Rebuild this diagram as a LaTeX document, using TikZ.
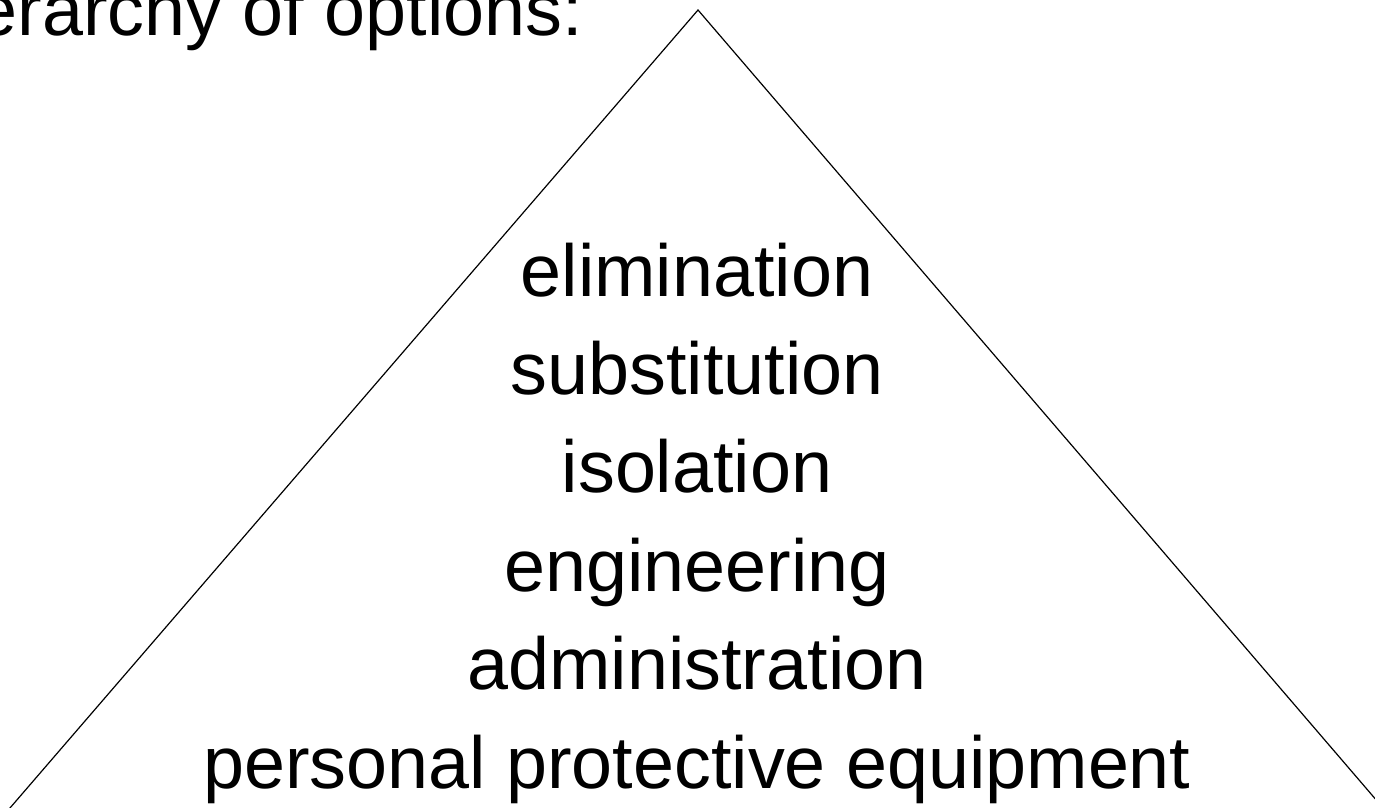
\documentclass[tikz,border=0pt]{standalone}
\usepackage{fontspec}
\setmainfont{Liberation Sans}
\begin{document}
\begin{tikzpicture}[x=1pt,y=-1pt,
  level/.style={anchor=base, inner sep=0pt, font=\fontsize{73.7}{88}\selectfont},
  titletext/.style={anchor=base west, inner sep=0pt, font=\fontsize{73.7}{88}\selectfont},
  edge/.style={draw=black, line width=1.2pt, line join=miter}]
\useasboundingbox (0,0) rectangle (1375,807);
\clip (0,0) rectangle (1375,807);
\fill[white] (0,0) rectangle (1375,807);
% triangle
\coordinate (apex) at (698,10);
\coordinate (bl) at (-9,830);
\coordinate (br) at (1402,830);
\draw[edge] (bl) -- (apex) -- (br);
% title
\node[titletext] (title) at (-93,35) {Hierarchy of options:};
% levels
\node[level] (l1) at (697,296) {elimination};
\node[level] (l2) at (697,394.4) {substitution};
\node[level] (l3) at (697,492.8) {isolation};
\node[level] (l4) at (697,591.2) {engineering};
\node[level] (l5) at (697,689.6) {administration};
\node[level] (l6) at (697,788) {personal protective equipment};
\end{tikzpicture}
\end{document}
